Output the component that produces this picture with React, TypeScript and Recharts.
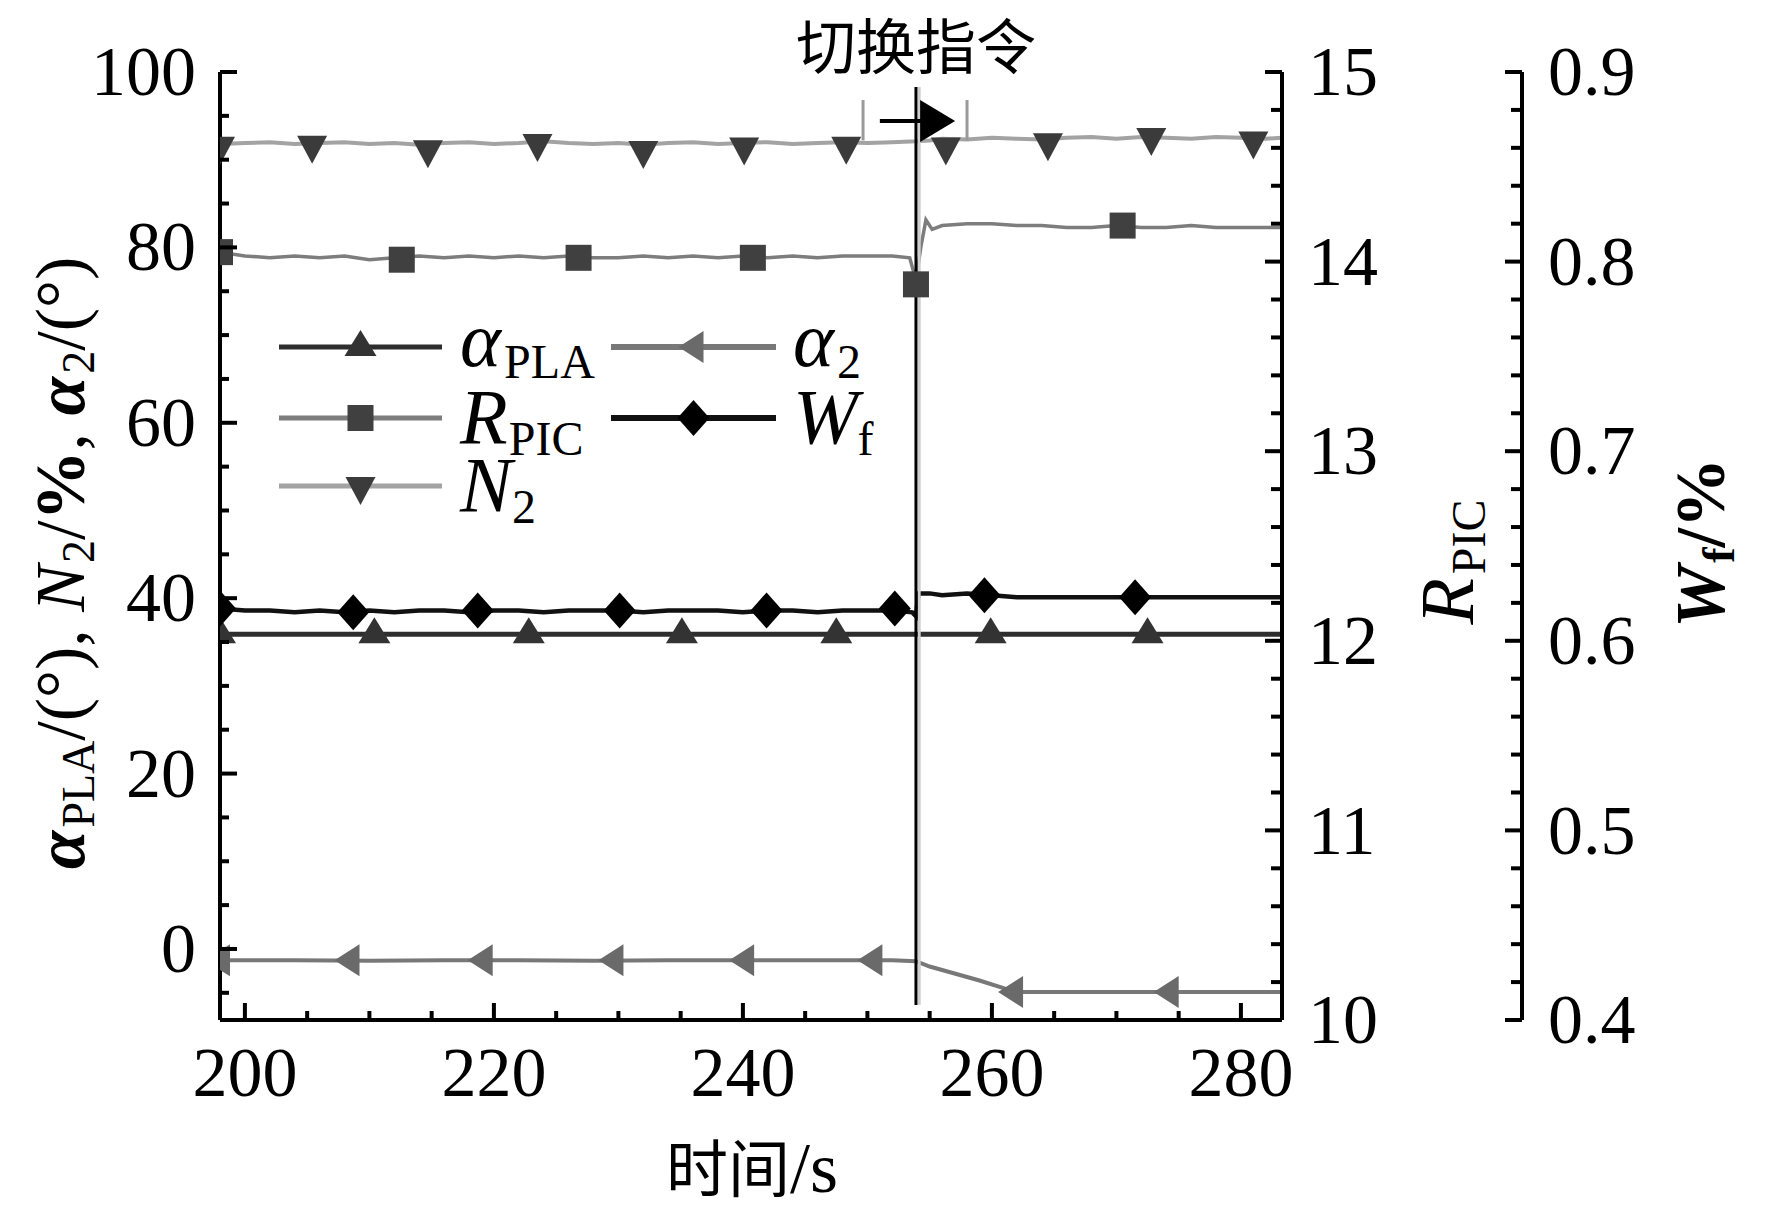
import React from "react";
import { ComposedChart, Line, Scatter, XAxis, YAxis, ReferenceLine, Legend } from "recharts";

// tick positions and labelled ticks
const xTicks = [200, 205, 210, 215, 220, 225, 230, 235, 240, 245, 250, 255, 260, 265, 270, 275, 280];
const xLabels = [200, 220, 240, 260, 280];
const leftTicks = [-5, 0, 5, 10, 15, 20, 25, 30, 35, 40, 45, 50, 55, 60, 65, 70, 75, 80, 85, 90, 95, 100];
const leftLabels = [0, 20, 40, 60, 80, 100];
const rpicTicks = [10, 10.2, 10.4, 10.6, 10.8, 11, 11.2, 11.4, 11.6, 11.8, 12, 12.2, 12.4, 12.6, 12.8, 13, 13.2, 13.4, 13.6, 13.8, 14, 14.2, 14.4, 14.6, 14.8, 15];
const rpicLabels = [10, 11, 12, 13, 14, 15];
const wfTicks = [0.4, 0.42, 0.44, 0.46, 0.48, 0.5, 0.52, 0.54, 0.56, 0.58, 0.6, 0.62, 0.64, 0.66, 0.68, 0.7, 0.72, 0.74, 0.76, 0.78, 0.8, 0.82, 0.84, 0.86, 0.88, 0.9];
const wfLabels = [0.4, 0.5, 0.6, 0.7, 0.8, 0.9];

const switchTime = 253.9;

// line samples (t in s)
const n2Line = [
  { t: 198, v: 91.8 }, { t: 200, v: 91.9 }, { t: 202, v: 92.0 }, { t: 204, v: 91.8 }, { t: 206, v: 91.9 },
  { t: 208, v: 92.0 }, { t: 210, v: 91.8 }, { t: 212, v: 91.9 }, { t: 214, v: 91.7 }, { t: 216, v: 91.9 },
  { t: 218, v: 92.0 }, { t: 220, v: 91.8 }, { t: 222, v: 91.9 }, { t: 224, v: 92.1 }, { t: 226, v: 91.9 },
  { t: 228, v: 91.8 }, { t: 230, v: 91.9 }, { t: 232, v: 91.7 }, { t: 234, v: 91.9 }, { t: 236, v: 92.0 },
  { t: 238, v: 91.8 }, { t: 240, v: 91.9 }, { t: 242, v: 92.0 }, { t: 244, v: 91.8 }, { t: 246, v: 91.9 },
  { t: 248, v: 92.0 }, { t: 250, v: 91.9 }, { t: 252, v: 92.0 }, { t: 253.9, v: 92.1 }, { t: 255, v: 92.2 },
  { t: 256, v: 92.4 }, { t: 258, v: 92.3 }, { t: 260, v: 92.5 }, { t: 262, v: 92.4 }, { t: 264, v: 92.3 },
  { t: 266, v: 92.5 }, { t: 268, v: 92.6 }, { t: 270, v: 92.4 }, { t: 272, v: 92.6 }, { t: 274, v: 92.5 },
  { t: 276, v: 92.4 }, { t: 278, v: 92.6 }, { t: 280, v: 92.5 }, { t: 282, v: 92.4 }, { t: 283.3, v: 92.5 }
];
const rpicLine = [
  { t: 198, v: 14.05 }, { t: 200, v: 14.03 }, { t: 202, v: 14.02 }, { t: 204, v: 14.03 }, { t: 206, v: 14.02 },
  { t: 208, v: 14.03 }, { t: 210, v: 14.01 }, { t: 212, v: 14.02 }, { t: 214, v: 14.03 }, { t: 216, v: 14.02 },
  { t: 218, v: 14.03 }, { t: 220, v: 14.02 }, { t: 222, v: 14.03 }, { t: 224, v: 14.02 }, { t: 226, v: 14.03 },
  { t: 228, v: 14.02 }, { t: 230, v: 14.02 }, { t: 232, v: 14.03 }, { t: 234, v: 14.02 }, { t: 236, v: 14.03 },
  { t: 238, v: 14.02 }, { t: 240, v: 14.03 }, { t: 242, v: 14.02 }, { t: 244, v: 14.03 }, { t: 246, v: 14.02 },
  { t: 248, v: 14.03 }, { t: 250, v: 14.03 }, { t: 252, v: 14.03 }, { t: 253.4, v: 14.02 }, { t: 253.9, v: 13.9 },
  { t: 254.3, v: 14.08 }, { t: 254.7, v: 14.22 }, { t: 255.2, v: 14.17 }, { t: 256, v: 14.19 }, { t: 258, v: 14.2 },
  { t: 260, v: 14.2 }, { t: 262, v: 14.19 }, { t: 264, v: 14.19 }, { t: 266, v: 14.18 }, { t: 268, v: 14.18 },
  { t: 270, v: 14.19 }, { t: 272, v: 14.18 }, { t: 274, v: 14.18 }, { t: 276, v: 14.19 }, { t: 278, v: 14.18 },
  { t: 280, v: 14.18 }, { t: 282, v: 14.18 }, { t: 283.3, v: 14.18 }
];
const wfLine = [
  { t: 198, v: 0.617 }, { t: 200, v: 0.616 }, { t: 202, v: 0.616 }, { t: 204, v: 0.615 }, { t: 206, v: 0.616 },
  { t: 208, v: 0.615 }, { t: 210, v: 0.616 }, { t: 212, v: 0.615 }, { t: 214, v: 0.616 }, { t: 216, v: 0.616 },
  { t: 218, v: 0.615 }, { t: 220, v: 0.616 }, { t: 222, v: 0.616 }, { t: 224, v: 0.615 }, { t: 226, v: 0.616 },
  { t: 228, v: 0.616 }, { t: 230, v: 0.616 }, { t: 232, v: 0.615 }, { t: 234, v: 0.616 }, { t: 236, v: 0.616 },
  { t: 238, v: 0.616 }, { t: 240, v: 0.615 }, { t: 242, v: 0.616 }, { t: 244, v: 0.616 }, { t: 246, v: 0.615 },
  { t: 248, v: 0.616 }, { t: 250, v: 0.616 }, { t: 252, v: 0.616 }, { t: 253.6, v: 0.615 }, { t: 253.9, v: 0.613 },
  { t: 254.1, v: 0.625 }, { t: 255, v: 0.625 }, { t: 256, v: 0.624 }, { t: 258, v: 0.625 }, { t: 260, v: 0.624 },
  { t: 262, v: 0.623 }, { t: 264, v: 0.623 }, { t: 266, v: 0.623 }, { t: 268, v: 0.623 }, { t: 270, v: 0.623 },
  { t: 272, v: 0.623 }, { t: 274, v: 0.623 }, { t: 276, v: 0.623 }, { t: 278, v: 0.623 }, { t: 280, v: 0.623 },
  { t: 283.3, v: 0.623 }
];
const plaLine = [
  { t: 198, v: 35.9 }, { t: 230, v: 35.9 }, { t: 253.9, v: 35.9 }, { t: 283.3, v: 35.9 }
];
const alpha2Line = [
  { t: 198, v: -1.3 }, { t: 204, v: -1.3 }, { t: 210, v: -1.35 }, { t: 216, v: -1.3 }, { t: 222, v: -1.3 },
  { t: 228, v: -1.35 }, { t: 234, v: -1.3 }, { t: 240, v: -1.3 }, { t: 246, v: -1.3 }, { t: 252, v: -1.3 },
  { t: 253.9, v: -1.4 }, { t: 255, v: -2.0 }, { t: 257, v: -2.8 }, { t: 259, v: -3.6 }, { t: 261, v: -4.5 },
  { t: 262, v: -4.9 }, { t: 270, v: -4.9 }, { t: 283.3, v: -4.9 }
];

// marker positions
const n2Marks = [
  { t: 198, v: 91.6 }, { t: 205.4, v: 91.7 }, { t: 214.7, v: 91.2 }, { t: 223.5, v: 91.9 }, { t: 232.0, v: 91.1 },
  { t: 240.1, v: 91.5 }, { t: 248.3, v: 91.6 }, { t: 256.3, v: 91.5 }, { t: 264.5, v: 92.0 }, { t: 272.8, v: 92.6 },
  { t: 281.0, v: 92.2 }
];
const rpicMarks = [
  { t: 198, v: 14.05 }, { t: 212.6, v: 14.01 }, { t: 226.8, v: 14.02 }, { t: 240.8, v: 14.02 }, { t: 253.9, v: 13.88 },
  { t: 270.5, v: 14.19 }
];
const wfMarks = [
  { t: 198, v: 0.617 }, { t: 208.7, v: 0.615 }, { t: 218.7, v: 0.616 }, { t: 230.1, v: 0.616 }, { t: 241.9, v: 0.616 },
  { t: 252.2, v: 0.617 }, { t: 259.4, v: 0.624 }, { t: 271.5, v: 0.623 }
];
const plaMarks = [
  { t: 198, v: 35.9 }, { t: 210.4, v: 35.9 }, { t: 222.8, v: 35.9 }, { t: 235.1, v: 35.9 }, { t: 247.5, v: 35.9 },
  { t: 259.9, v: 35.9 }, { t: 272.5, v: 35.9 }
];
const alpha2Marks = [
  { t: 198, v: -1.3 }, { t: 208.4, v: -1.3 }, { t: 219.1, v: -1.3 }, { t: 229.6, v: -1.3 }, { t: 240.1, v: -1.3 },
  { t: 250.4, v: -1.3 }, { t: 261.7, v: -4.9 }, { t: 274.2, v: -4.9 }
];
const arrowHead = [{ t: 255.6, v: 94.4 }];

const serifStyle = { fontFamily: '"Liberation Serif", "Times New Roman", "DejaVu Serif", serif' };
const cjkStyle = { fontFamily: '"Noto Sans CJK SC", sans-serif' };
const tickFont = 70;

const isMajor = (list: number[], v: number) => list.some((l) => Math.abs(l - v) < 1e-6);

function LeftTick(props: any) {
  const { x, y, payload } = props;
  const major = isMajor(leftLabels, payload.value);
  return (
    <g>
      <line x1={x} x2={x + (major ? 17 : 9)} y1={y} y2={y} stroke="#000" strokeWidth={4} />
      {major && (
        <text x={x - 24} y={y + tickFont * 0.33} textAnchor="end" style={serifStyle} fontSize={tickFont} fill="#000">
          {payload.value}
        </text>
      )}
    </g>
  );
}

function BottomTick(props: any) {
  const { x, y, payload } = props;
  const major = isMajor(xLabels, payload.value);
  return (
    <g>
      <line x1={x} x2={x} y1={y} y2={y - (major ? 17 : 9)} stroke="#000" strokeWidth={4} />
      {major && (
        <text x={x} y={y + 76} textAnchor="middle" style={serifStyle} fontSize={tickFont} fill="#000">
          {payload.value}
        </text>
      )}
    </g>
  );
}

function makeRightTick(labels: number[], digits: number) {
  return function RightTick(props: any) {
    const { x, y, payload } = props;
    const major = isMajor(labels, payload.value);
    return (
      <g>
        <line x1={x} x2={x - (major ? 17 : 11)} y1={y} y2={y} stroke="#000" strokeWidth={4} />
        {major && (
          <text x={x + 26} y={y + tickFont * 0.33} textAnchor="start" style={serifStyle} fontSize={tickFont} fill="#000">
            {payload.value.toFixed(digits)}
          </text>
        )}
      </g>
    );
  };
}
const RpicTick = makeRightTick(rpicLabels, 0);
const WfTick = makeRightTick(wfLabels, 1);

const shapeTriDown = (p: any) => (
  <polygon points={`${p.cx - 15},${p.cy - 9} ${p.cx + 15},${p.cy - 9} ${p.cx},${p.cy + 19}`} fill="#3b3b3b" />
);
const shapeTriUp = (p: any) => (
  <polygon points={`${p.cx - 16},${p.cy + 9} ${p.cx + 16},${p.cy + 9} ${p.cx},${p.cy - 17}`} fill="#333" />
);
const shapeTriLeft = (p: any) => (
  <polygon points={`${p.cx - 15},${p.cy} ${p.cx + 10},${p.cy - 16} ${p.cx + 10},${p.cy + 16}`} fill="#6a6a6a" />
);
const shapeSquare = (p: any) => <rect x={p.cx - 13} y={p.cy - 13} width={26} height={26} fill="#404040" />;
const shapeDiamond = (p: any) => (
  <polygon points={`${p.cx},${p.cy - 18} ${p.cx + 16},${p.cy} ${p.cx},${p.cy + 18} ${p.cx - 16},${p.cy}`} fill="#000" />
);
const shapeArrow = (p: any) => (
  <polygon points={`${p.cx - 17},${p.cy - 21} ${p.cx + 18},${p.cy} ${p.cx - 17},${p.cy + 21}`} fill="#000" />
);

function LeftTitle() {
  const cx = 62;
  const cy = 563;
  return (
    <text transform={`rotate(-90 ${cx} ${cy})`} x={cx} y={cy + 22} textAnchor="middle" style={serifStyle} fontSize={70} fill="#000">
      <tspan fontStyle="italic" fontWeight="bold">α</tspan>
      <tspan fontSize={46} dx={3} dy={10}>PLA</tspan>
      <tspan dy={-10}>/(°), </tspan>
      <tspan fontStyle="italic">N</tspan>
      <tspan fontSize={46} dx={2} dy={10}>2</tspan>
      <tspan dy={-10}>/</tspan>
      <tspan fontWeight="bold">%</tspan>
      <tspan>, </tspan>
      <tspan fontStyle="italic" fontWeight="bold">α</tspan>
      <tspan fontSize={46} dx={3} dy={10}>2</tspan>
      <tspan dy={-10}>/(°)</tspan>
    </text>
  );
}

function RpicTitle() {
  const cx = 1449;
  const cy = 562;
  return (
    <text transform={`rotate(-90 ${cx} ${cy})`} x={cx} y={cy + 24} textAnchor="middle" style={serifStyle} fontSize={76} fill="#000">
      <tspan fontStyle="italic">R</tspan>
      <tspan fontSize={48} dx={4} dy={12}>PIC</tspan>
    </text>
  );
}

function WfTitle() {
  const cx = 1702;
  const cy = 543;
  return (
    <text transform={`rotate(-90 ${cx} ${cy})`} x={cx} y={cy + 22} textAnchor="middle" style={serifStyle} fontSize={70} fontWeight="bold" fill="#000">
      <tspan fontStyle="italic">W</tspan>
      <tspan fontSize={46} dx={3} dy={10}>f</tspan>
      <tspan dy={-10}>/%</tspan>
    </text>
  );
}

function XTitle() {
  return (
    <text x={752} y={1192} textAnchor="middle" fontSize={62} fill="#000">
      <tspan style={cjkStyle}>时间</tspan>
      <tspan style={serifStyle} fontSize={72}>/s</tspan>
    </text>
  );
}

// legend, drawn in its own box placed at (260, 290)
const legendFont = 78;
const legendSubFont = 48;
function LegendBox() {
  const ox = 260;
  const oy = 290;
  // adv: room left for the italic main letter, in em
  const rows = [
    { x1: 279, x2: 442, y: 347, color: "#2e2e2e", w: 5, mark: shapeTriUp, tx: 460, main: "α", adv: 0.54, sub: "PLA", dy: 19 },
    { x1: 279, x2: 442, y: 418, color: "#7d7d7d", w: 5, mark: shapeSquare, tx: 460, main: "R", adv: 0.6, sub: "PIC", dy: 25 },
    { x1: 279, x2: 442, y: 486, color: "#a3a3a3", w: 5, mark: shapeTriDown, tx: 460, main: "N", adv: 0.64, sub: "2", dy: 25 },
    { x1: 611, x2: 776, y: 347, color: "#787878", w: 6, mark: shapeTriLeft, tx: 793, main: "α", adv: 0.54, sub: "2", dy: 19 },
    { x1: 611, x2: 776, y: 418, color: "#111", w: 6, mark: shapeDiamond, tx: 793, main: "W", adv: 0.8, sub: "f", dy: 25 }
  ];
  return (
    <svg width={620} height={260} style={{ display: "block" }}>
      {rows.map((r) => (
        <g key={r.main + r.sub}>
          <line x1={r.x1 - ox} x2={r.x2 - ox} y1={r.y - oy} y2={r.y - oy} stroke={r.color} strokeWidth={r.w} />
          {r.mark({ cx: (r.x1 + r.x2) / 2 - ox, cy: r.y - oy })}
          <text x={r.tx - ox} y={r.y - oy + r.dy} style={serifStyle} fontSize={legendFont} fontStyle="italic" fill="#000">
            {r.main}
          </text>
          <text x={r.tx - ox + r.adv * legendFont + 2} y={r.y - oy + r.dy + 12} style={serifStyle} fontSize={legendSubFont} fill="#000">
            {r.sub}
          </text>
        </g>
      ))}
    </svg>
  );
}

export default function App() {
  return (
    <div style={{ position: "absolute", left: 0, top: 0, width: 1772, height: 1216, background: "#fff" }}>
      <ComposedChart width={1772} height={1216} margin={{ top: 72, right: 100, bottom: 0, left: 0 }}>
        <XAxis
          dataKey="t"
          type="number"
          domain={[198, 283.3]}
          allowDataOverflow
          ticks={xTicks}
          interval={0}
          tickSize={0}
          tickMargin={0}
          tickLine={false}
          height={196}
          axisLine={{ stroke: "#000", strokeWidth: 4 }}
          tick={<BottomTick />}
          label={<XTitle />}
        />
        <YAxis
          yAxisId="left"
          dataKey="v"
          type="number"
          domain={[-8.1, 100]}
          allowDataOverflow
          ticks={leftTicks}
          interval={0}
          tickSize={0}
          tickMargin={0}
          tickLine={false}
          width={220}
          axisLine={{ stroke: "#000", strokeWidth: 4 }}
          tick={<LeftTick />}
          label={<LeftTitle />}
        />
        <YAxis
          yAxisId="rpic"
          orientation="right"
          dataKey="v"
          type="number"
          domain={[10, 15]}
          allowDataOverflow
          ticks={rpicTicks}
          interval={0}
          tickSize={0}
          tickMargin={0}
          tickLine={false}
          width={240}
          axisLine={{ stroke: "#000", strokeWidth: 4 }}
          tick={<RpicTick />}
          label={<RpicTitle />}
        />
        <YAxis
          yAxisId="wf"
          orientation="right"
          dataKey="v"
          type="number"
          domain={[0.4, 0.9]}
          allowDataOverflow
          ticks={wfTicks}
          interval={0}
          tickSize={0}
          tickMargin={0}
          tickLine={false}
          width={150}
          axisLine={{ stroke: "#000", strokeWidth: 4 }}
          tick={<WfTick />}
          label={<WfTitle />}
        />

        <Line yAxisId="left" data={n2Line} dataKey="v" type="linear" stroke="#a3a3a3" strokeWidth={4} dot={false} activeDot={false} isAnimationActive={false} />
        <Line yAxisId="rpic" data={rpicLine} dataKey="v" type="linear" stroke="#7d7d7d" strokeWidth={3.5} dot={false} activeDot={false} isAnimationActive={false} />
        <Line yAxisId="left" data={plaLine} dataKey="v" type="linear" stroke="#2e2e2e" strokeWidth={5} dot={false} activeDot={false} isAnimationActive={false} />
        <Line yAxisId="wf" data={wfLine} dataKey="v" type="linear" stroke="#111" strokeWidth={4.5} dot={false} activeDot={false} isAnimationActive={false} />
        <Line yAxisId="left" data={alpha2Line} dataKey="v" type="linear" stroke="#787878" strokeWidth={4} dot={false} activeDot={false} isAnimationActive={false} />

        <ReferenceLine yAxisId="left" segment={[{ x: switchTime + 0.26, y: 98.3 }, { x: switchTime + 0.26, y: -6.4 }]} stroke="#cfcfcf" strokeWidth={3} ifOverflow="visible" />
        <ReferenceLine
          yAxisId="left"
          segment={[{ x: switchTime, y: 98.3 }, { x: switchTime, y: -6.4 }]}
          stroke="#000"
          strokeWidth={3}
          ifOverflow="visible"
          label={{ value: "切换指令", position: "top", offset: 18, fontSize: 60, style: cjkStyle, fill: "#000" }}
        />
        <ReferenceLine yAxisId="left" segment={[{ x: 249.65, y: 96.8 }, { x: 249.65, y: 92.2 }]} stroke="#9a9a9a" strokeWidth={3} ifOverflow="visible" />
        <ReferenceLine yAxisId="left" segment={[{ x: 258.0, y: 96.8 }, { x: 258.0, y: 92.2 }]} stroke="#9a9a9a" strokeWidth={3} ifOverflow="visible" />
        <ReferenceLine yAxisId="left" segment={[{ x: 251.0, y: 94.4 }, { x: 254.6, y: 94.4 }]} stroke="#000" strokeWidth={4} ifOverflow="visible" />

        <Scatter yAxisId="left" data={n2Marks} dataKey="v" shape={shapeTriDown} isAnimationActive={false} />
        <Scatter yAxisId="rpic" data={rpicMarks} dataKey="v" shape={shapeSquare} isAnimationActive={false} />
        <Scatter yAxisId="left" data={plaMarks} dataKey="v" shape={shapeTriUp} isAnimationActive={false} />
        <Scatter yAxisId="wf" data={wfMarks} dataKey="v" shape={shapeDiamond} isAnimationActive={false} />
        <Scatter yAxisId="left" data={alpha2Marks} dataKey="v" shape={shapeTriLeft} isAnimationActive={false} />
        <Scatter yAxisId="left" data={arrowHead} dataKey="v" shape={shapeArrow} isAnimationActive={false} />

        <Legend
          layout="horizontal"
          verticalAlign="middle"
          align="center"
          wrapperStyle={{ left: 260, top: 290, width: 620, height: 260 }}
          content={() => <LegendBox />}
        />
      </ComposedChart>
    </div>
  );
}
